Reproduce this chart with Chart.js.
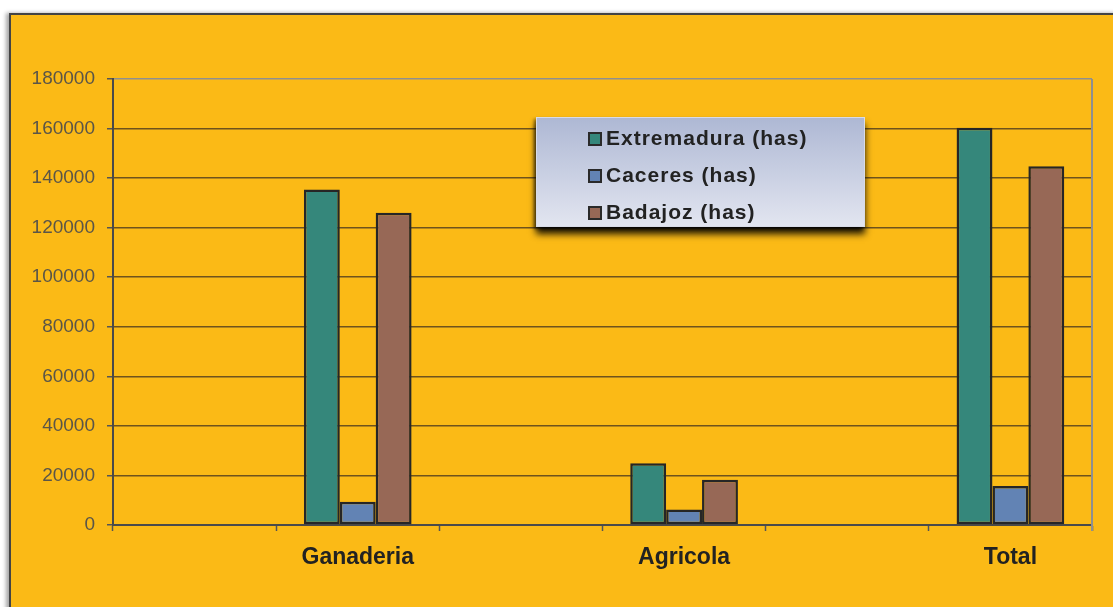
<!DOCTYPE html>
<html>

<head>
    <meta charset="utf-8">
    <script src="https://cdn.jsdelivr.net/npm/chart.js@4.4.0/dist/chart.umd.min.js"></script>
    <title>Superficie por actividad</title>
    <style>
        html, body {
            margin: 0;
            padding: 0;
            background: #fff;
            overflow: hidden;
            width: 1113px;
            height: 607px;
        }

        .frame {
            position: absolute;
            left: 9px;
            top: 13px;
            width: 1200px;
            height: 700px;
            background: #FBBA16;
            border-top: 2px solid #444;
            border-left: 2px solid #444;
            box-shadow: -3px 0 4px rgba(0, 0, 0, 0.35);
        }

        .wrap {
            position: absolute;
            left: 0;
            top: 0;
            width: 1113px;
            height: 607px;
        }

        #legend {
            position: absolute;
            left: 536px;
            top: 117px;
            width: 329px;
            height: 110px;
            box-sizing: border-box;
            background: linear-gradient(#aeb8d4, #e2e5f0);
            border: 1px solid #d8dce8;
            box-shadow: 0 7px 7px rgba(0, 0, 0, 0.9), -2px 2px 3px rgba(0, 0, 0, 0.45);
            font: bold 21px "Liberation Sans", Arial, sans-serif;
            letter-spacing: 1px;
            color: #222;
        }

        #legend .item {
            position: absolute;
            left: 51px;
            height: 24px;
            line-height: 24px;
            white-space: nowrap;
        }

        #legend .box {
            display: inline-block;
            width: 10px;
            height: 10px;
            border: 2px solid #2a2a2a;
            margin-right: 4px;
            vertical-align: -1px;
        }
    </style>
</head>

<body>
    <div class="frame"></div>
    <div class="wrap">
        <canvas id="chart" width="1113" height="607"></canvas>
    </div>
    <div id="legend"></div>
    <script>
        // empty slots between the groups keep the gaps the original sheet had
        const categories = ['', 'Ganaderia', '', 'Agricola', '', 'Total']
        const extremadura = [null, 135400, null, 24900, null, 160300]
        const caceres = [null, 9400, null, 6300, null, 15700]
        const badajoz = [null, 126000, null, 18300, null, 144800]

        const seriesNames = ['Extremadura (has)', 'Caceres (has)', 'Badajoz (has)']
        const seriesColors = ['#35877B', '#6283B4', '#976856']

        const yMax = 180000
        const yStep = 20000

        const font = '"Liberation Sans", Arial, sans-serif'

        // gray line closing the plot on the right
        const rightEdge = {
            id: 'rightEdge',
            afterDraw(chart) {
                const a = chart.chartArea
                const c = chart.ctx
                c.save()
                c.strokeStyle = '#8f8f8f'
                c.lineWidth = 2
                c.beginPath()
                c.moveTo(a.right, a.top)
                c.lineTo(a.right, a.bottom + 6)
                c.stroke()
                c.restore()
            }
        }

        const chart = new Chart(document.getElementById('chart'), {
            type: 'bar',
            data: {
                labels: categories,
                datasets: [extremadura, caceres, badajoz].map(function (values, i) {
                    return {
                        label: seriesNames[i],
                        data: values,
                        backgroundColor: seriesColors[i],
                        borderColor: '#262626',
                        borderWidth: 2.5,
                        borderSkipped: false,
                        barPercentage: 1,
                        categoryPercentage: 0.66
                    }
                })
            },
            options: {
                responsive: false,
                animation: false,
                layout: {
                    padding: { left: 0, top: 79, right: 21, bottom: 0 }
                },
                plugins: {
                    legend: { display: false },
                    tooltip: { enabled: false }
                },
                scales: {
                    x: {
                        grid: {
                            offset: true,
                            drawOnChartArea: false,
                            tickLength: 6,
                            tickColor: '#555',
                            tickWidth: 1.5
                        },
                        border: { color: '#4a4a4a', width: 2 },
                        ticks: {
                            padding: 13,
                            color: '#222',
                            font: { family: font, size: 23, weight: 'bold' }
                        },
                        afterFit: function (scale) { scale.height = 82 }
                    },
                    y: {
                        min: 0,
                        max: yMax,
                        ticks: {
                            stepSize: yStep,
                            padding: 12,
                            color: '#5a5548',
                            font: { family: font, size: 19 },
                            callback: function (v) { return String(v) }
                        },
                        grid: {
                            color: function (ctx) {
                                return ctx.tick && ctx.tick.value === yMax ? '#8f8f8f' : 'rgba(75, 58, 30, 0.8)'
                            },
                            lineWidth: 1.5,
                            tickLength: 6,
                            tickColor: '#555'
                        },
                        border: { color: '#4a4a4a', width: 2 },
                        afterFit: function (scale) { scale.width = 113 }
                    }
                }
            },
            plugins: [rightEdge]
        })

        // legend panel built from the datasets
        const legend = document.getElementById('legend')
        chart.data.datasets.forEach(function (ds, i) {
            const item = document.createElement('div')
            item.className = 'item'
            item.style.top = (8 + i * 37) + 'px'
            const box = document.createElement('span')
            box.className = 'box'
            box.style.background = ds.backgroundColor
            item.appendChild(box)
            item.appendChild(document.createTextNode(ds.label))
            legend.appendChild(item)
        })
    </script>
</body>

</html>
